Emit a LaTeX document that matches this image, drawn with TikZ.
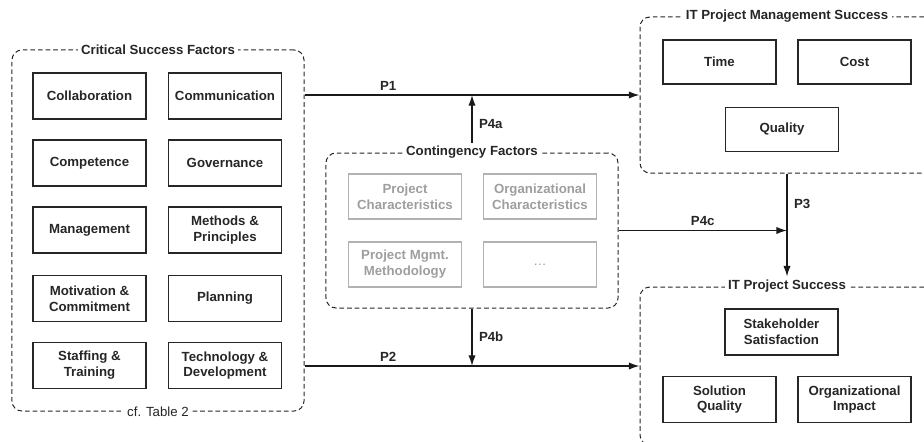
\documentclass[tikz,border=0pt]{standalone}
\usepackage{fontspec}
\setmainfont{Liberation Sans}
\usetikzlibrary{arrows.meta}
\begin{document}
\begin{tikzpicture}[x=0.03cm, y=-0.03cm]

	%DEFINICIONES
	\tikzstyle{every node}=[font=\fontsize{11.3}{13.5}\selectfont\bfseries, text=black!85]
	\tikzstyle{group} = [draw=black!85, dash pattern=on 4pt off 2.5pt, rounded corners=0.3cm, line width=0.3mm, minimum width=8.76cm]
	\tikzstyle{title} = [fill=white, inner sep=3pt]
	\tikzstyle{block} = [draw=black!85, align=center, line width=0.4mm, minimum width=3.39cm, minimum height=1.38cm]
	\tikzstyle{gblock} = [block, draw=black!30, text=black!38]
	\tikzstyle{flecha} = [-{Latex[length=3.2mm,width=2.2mm]}, line width=0.45mm, black!90]

	\useasboundingbox (0,0) rectangle (924,441);
	\clip (0,0) rectangle (924,441);

	%GRUPOS
	\draw(158,230.5) node[group, minimum height=10.83cm](csf){};
	\draw(472,230.5) node[group, minimum height=4.65cm](cf){};
	\draw(787,95) node[group, minimum width=8.82cm, minimum height=4.68cm](itpm){};
	\draw(787,366) node[group, minimum width=8.82cm, minimum height=4.74cm](itps){};

	\draw(csf.north) node[title](csftitle){Critical Success Factors};
	\draw(csf.south) node[title, font=\fontsize{11.3}{13.5}\selectfont](csfnote){cf. Table 2};
	\draw(cf.north) node[title](cftitle){Contingency Factors};
	\draw(itpm.north) node[title](itpmtitle){IT Project Management Success};
	\draw(itps.north) node[title](itpstitle){IT Project Success};

	%BLOQUES CSF
	\draw(89.5,96) node[block](col){Collaboration};
	\draw(225,96) node[block](com){Communication};
	\draw(89.5,163) node[block](cpt){Competence};
	\draw(225,163) node[block](gov){Governance};
	\draw(89.5,230) node[block](man){Management};
	\draw(225,230) node[block](met){Methods \&\\Principles};
	\draw(89.5,298.5) node[block](mot){Motivation \&\\Commitment};
	\draw(225,298.5) node[block](pla){Planning};
	\draw(89.5,365.5) node[block](sta){Staffing \&\\Training};
	\draw(225,365.5) node[block](tec){Technology \&\\Development};

	%BLOQUES CF
	\draw(405,196.5) node[gblock, minimum height=1.35cm](pch){Project\\Characteristics};
	\draw(540,196.5) node[gblock, minimum height=1.35cm](och){Organizational\\Characteristics};
	\draw(405,264.5) node[gblock, minimum height=1.35cm](pmm){Project Mgmt.\\Methodology};
	\draw(540,264.5) node[gblock, minimum height=1.35cm](etc){\mdseries\dots};

	%BLOQUES EXITO
	\draw(719.5,62) node[block, minimum height=1.32cm](tim){Time};
	\draw(854.5,62) node[block, minimum height=1.32cm](cos){Cost};
	\draw(782,129.5) node[block, minimum height=1.32cm](qua){Quality};
	\draw(781.5,332) node[block](shs){Stakeholder\\Satisfaction};
	\draw(719.5,399.5) node[block](soq){Solution\\Quality};
	\draw(854.5,399.5) node[block](oim){Organizational\\Impact};

	%FLECHAS
	\draw [flecha] (csf.east |- itpm.west) -- (itpm.west) node[pos=0.25, above]{P1};
	\draw [flecha] (csf.east |- itps.west) -- (itps.west) node[pos=0.25, above]{P2};
	\draw [flecha] (cftitle.north) -- (cftitle.north |- itpm.west) node[pos=0.4, right, xshift=2pt]{P4a};
	\draw [flecha] (cf.south) -- (cf.south |- itps.west) node[pos=0.5, right, xshift=2pt]{P4b};
	\draw [flecha] (itpm.south) -- (itpstitle.north) node[pos=0.3, right, xshift=2pt]{P3};
	\draw [flecha] (cf.east) -- (cf.east -| itpm.south) node[pos=0.5, above]{P4c};
\end{tikzpicture}
\end{document}
